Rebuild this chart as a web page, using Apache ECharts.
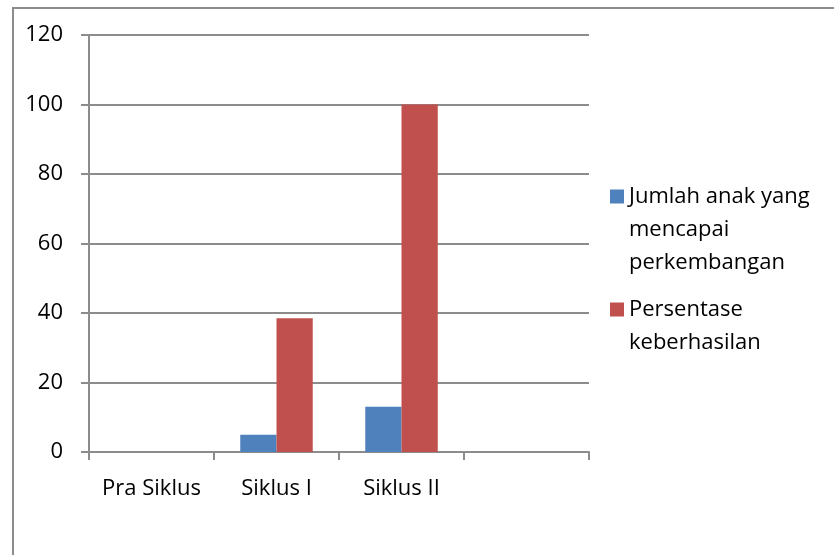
<!DOCTYPE html>
<html>
<head>
<meta charset="utf-8">
<script src="https://cdn.jsdelivr.net/npm/echarts@6/dist/echarts.min.js"></script>
<style>
    html, body { margin: 0; padding: 0; background: #fff; }
    #chart { width: 834px; height: 555px; }
</style>
</head>
<body>
<div id="chart"></div>
<script>
let categories = ["Pra Siklus", "Siklus I", "Siklus II", ""];
let jumlahAnak = [0, 5, 13, null];
let persentase = [0, 38.5, 100, null];
let yTicks = [0, 20, 40, 60, 80, 100, 120];

let gray = "#8c8c8c";
let font = "'Open Sans', 'Noto Sans', sans-serif";

function paintChart(element) {
    let chart = echarts.init(document.getElementById(element));
    let legendText = {
        fontFamily: font,
        fontSize: 22,
        color: "#000",
        lineHeight: 33,
    };
    // blank lines in front keep the first line level with the icon
    let option = {
        animation: false,
        graphic: [
            {
                type: "rect",
                shape: { x: 13, y: 8, width: 900, height: 700 },
                style: { fill: "none", stroke: gray, lineWidth: 2 },
                silent: true
            }
        ],
        grid: {
            left: 89,
            top: 35,
            width: 500,
            height: 417,
        },
        legend: [
            {
                orient: "vertical",
                left: 610,
                top: 114,
                padding: 0,
                itemWidth: 14,
                itemHeight: 14,
                textStyle: legendText,
                data: [{ name: "Jumlah anak yang mencapai perkembangan", icon: "rect" }],
                formatter: function () {
                    return " \n \nJumlah anak yang\nmencapai\nperkembangan";
                }
            },
            {
                orient: "vertical",
                left: 610,
                top: 260,
                padding: 0,
                itemWidth: 14,
                itemHeight: 14,
                textStyle: legendText,
                data: [{ name: "Persentase keberhasilan", icon: "rect" }],
                formatter: function () {
                    return " \nPersentase\nkeberhasilan";
                }
            }
        ],
        xAxis: {
            type: "category",
            data: categories,
            boundaryGap: true,
            axisLine: { lineStyle: { color: gray, width: 2 } },
            axisTick: { show: true, length: 8, lineStyle: { color: gray, width: 2 } },
            axisLabel: {
                interval: 0,
                margin: 26,
                fontFamily: font,
                fontSize: 22,
                color: "#000"
            }
        },
        yAxis: {
            type: "value",
            min: yTicks[0],
            max: yTicks[yTicks.length - 1],
            interval: 20,
            axisLine: { show: true, lineStyle: { color: gray, width: 2 } },
            axisTick: { show: true, length: 8, lineStyle: { color: gray, width: 2 } },
            splitLine: { show: true, lineStyle: { color: gray, width: 2 } },
            axisLabel: {
                margin: 26,
                fontFamily: font,
                fontSize: 22,
                color: "#000"
            }
        },
        series: [
            {
                name: "Jumlah anak yang mencapai perkembangan",
                type: "bar",
                data: jumlahAnak,
                barGap: "0%",
                barCategoryGap: "42%",
                itemStyle: { color: "#4f81bd" }
            },
            {
                name: "Persentase keberhasilan",
                type: "bar",
                data: persentase,
                barGap: "0%",
                barCategoryGap: "42%",
                itemStyle: { color: "#c0504d" }
            }
        ]
    };
    chart.setOption(option);
}

paintChart("chart");
</script>
</body>
</html>
